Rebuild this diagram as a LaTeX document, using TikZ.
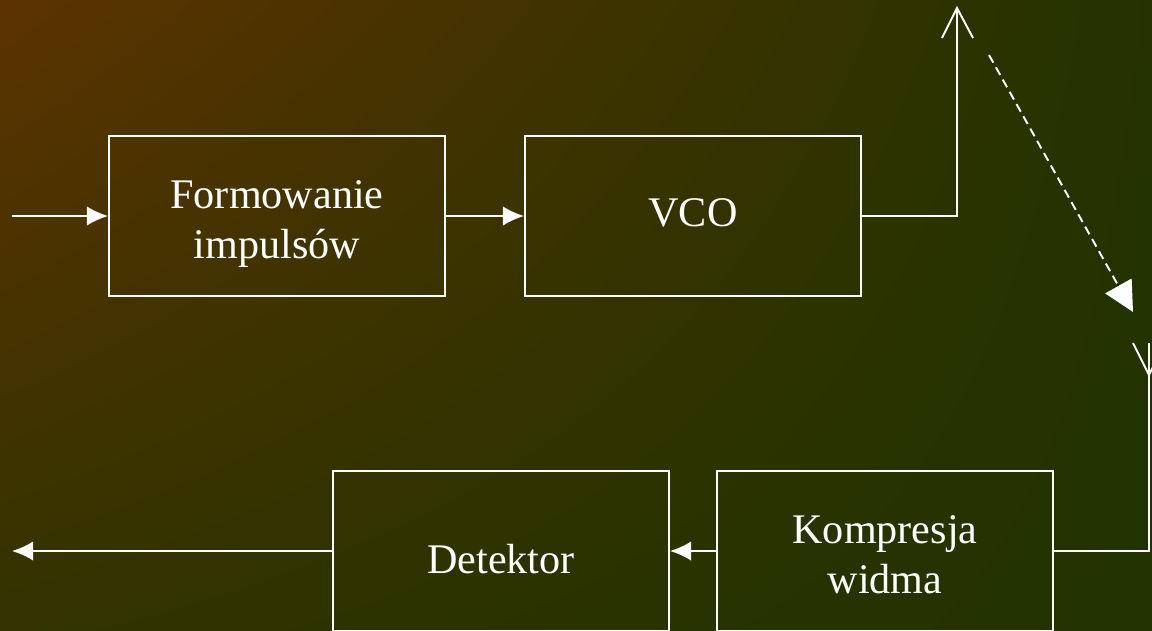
\documentclass[tikz,border=0pt]{standalone}
\usepackage{fontspec}
\setmainfont{Liberation Serif}
\usepackage{xcolor}
\usetikzlibrary{arrows.meta,positioning,shadings}

\definecolor{bgbrown}{RGB}{92,51,0}
\definecolor{bgolive}{RGB}{50,51,0}
\definecolor{bggreen}{RGB}{35,51,0}
\definecolor{bgdark}{RGB}{32,51,0}

\newcommand{\opis}[2][-4.5pt]{\raisebox{#1}[\height][\depth]{\begin{tabular}{@{}c@{}}#2\end{tabular}}}

\tikzset{
  blok/.style={draw=white, line width=1.1pt, minimum width=6.72cm, minimum height=3.2cm,
    text=white, align=center, font=\fontsize{24}{28.5}\selectfont},
  sygnal/.style={draw=white, line width=1.1pt},
  grot/.style={-{Latex[length=12pt,width=11pt]}}
}

\begin{document}
\begin{tikzpicture}[x=0.02cm,y=-0.02cm]

\useasboundingbox (0,0) rectangle (1152,630);
\clip (0,0) rectangle (1152,630);
\shade[upper left=bgbrown, upper right=bggreen, lower left=bgolive, lower right=bgdark]
  (0,0) rectangle (1152,630);% background

	\node[blok] (form) at (277,216) {\opis{Formowanie\\impulsów}};
	\node[blok] (vco) at (693,216) {\opis[0pt]{VCO}};
	\node[blok] (komp) at (885,551) {\opis{Kompresja\\widma}};
	\node[blok] (det) at (501,551) {\opis[-7pt]{Detektor}};

\coordinate (wej) at (12,216);
\coordinate (wyj) at (12,551);
\coordinate (nad) at (957,8);% transmit antenna top
\coordinate (odb) at (1149,343);% receive antenna top
\coordinate (fala1) at (989,55);
\coordinate (fala2) at (1133,312);

\draw[sygnal,grot] (wej) -- (form.west);
\draw[sygnal,grot] (form.east) -- (vco.west);
\draw[sygnal] (vco.east) -| (nad);
\draw[sygnal] (942,38) -- (nad) -- (973,38);% transmit antenna
\draw[sygnal,dashed,dash pattern=on 5pt off 3pt,-{Triangle[length=17pt,width=17pt]}] (fala1) -- (fala2);
\draw[sygnal] (komp.east) -| (odb);
\draw[sygnal] (1133,343) -- (1149,375) -- (1165,343);% receive antenna
\draw[sygnal,grot] (komp.west) -- (det.east);
\draw[sygnal,grot] (det.west) -- (wyj);

\end{tikzpicture}
\end{document}
